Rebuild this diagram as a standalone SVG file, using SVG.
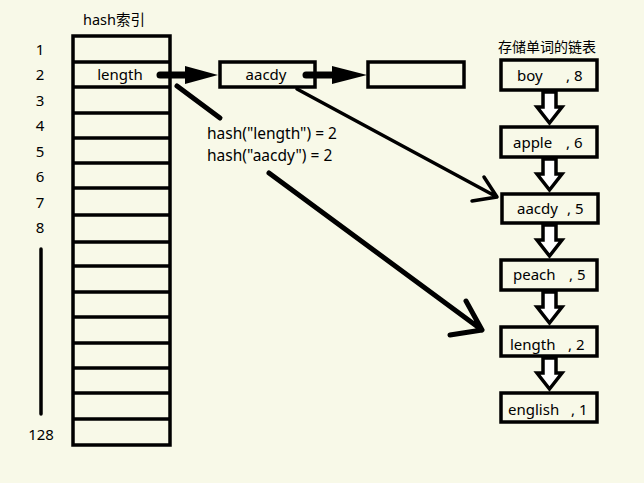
<svg xmlns="http://www.w3.org/2000/svg" width="644" height="483" viewBox="0 0 644 483">
<style>
  text { font-family: "Noto Sans", "Noto Sans CJK SC", sans-serif; font-size: 15px; fill: #000; }
  .c { text-anchor: middle; dominant-baseline: central; }
  .box { fill: none; stroke: #000; stroke-width: 3.5; }
  .cell { fill: none; stroke: #000; stroke-width: 3.5; }
  .hollow { fill: #fff; stroke: #000; stroke-width: 3.5; stroke-linejoin: miter; }
  .ln { fill: none; stroke: #000; stroke-linecap: round; stroke-linejoin: round; }
  .ht { font-size: 15.5px; }
</style>
<defs>
  <path id="harrow" d="M -6.5 0 L 6.5 0 L 6.5 15 L 12.5 15 L 0 31 L -12.5 15 L -6.5 15 Z"/>
</defs>
<rect width="644" height="483" fill="#f8f9e8"/>

<g id="hash-table">
  <text x="83" y="19" dominant-baseline="central" style="font-size:14.5px">hash索引</text>
  <rect class="cell" x="73" y="36" width="97" height="409"/>
  <path class="cell" d="M73 62H170M73 87H170M73 113H170M73 138H170M73 163H170M73 188H170M73 215H170M73 242H170M73 266H170M73 292H170M73 317H170M73 343H170M73 368H170M73 393H170M73 419H170"/>
  <text class="c" x="120" y="74">length</text>
</g>

<g id="index-labels">
  <text class="c" x="40" y="49">1</text>
  <text class="c" x="40" y="74">2</text>
  <text class="c" x="40" y="100">3</text>
  <text class="c" x="40" y="125">4</text>
  <text class="c" x="40" y="151">5</text>
  <text class="c" x="40" y="176">6</text>
  <text class="c" x="40" y="202">7</text>
  <text class="c" x="40" y="227">8</text>
  <line class="ln" x1="41" y1="249" x2="41" y2="414" stroke-width="3.5"/>
  <text class="c" x="41" y="434">128</text>
</g>

<g id="node-aacdy">
  <rect class="box" x="220" y="62" width="95" height="25"/>
  <text class="c" x="266" y="74">aacdy</text>
</g>

<g id="node-empty">
  <rect class="box" x="368" y="62" width="96" height="25"/>
</g>

<g id="hash-text">
  <text class="ht" x="207" y="133" dominant-baseline="central">hash("length") = 2</text>
  <text class="ht" x="207" y="155" dominant-baseline="central">hash("aacdy") = 2</text>
</g>

<g id="chain">
  <text x="547" y="46" text-anchor="middle" dominant-baseline="central" style="font-size:14px">存储单词的链表</text>
  <g id="chain-boy">
    <rect class="box" x="501" y="60" width="96" height="30"/>
    <text y="75" dominant-baseline="central"><tspan x="517">boy</tspan><tspan x="566">, 8</tspan></text>
  </g>
  <g id="chain-apple">
    <rect class="box" x="501" y="127" width="96" height="30"/>
    <text y="142" dominant-baseline="central"><tspan x="513">apple</tspan><tspan x="566">, 6</tspan></text>
  </g>
  <g id="chain-aacdy">
    <rect class="box" x="502" y="194" width="96" height="29"/>
    <text y="208" dominant-baseline="central"><tspan x="517">aacdy</tspan><tspan x="567">, 5</tspan></text>
  </g>
  <g id="chain-peach">
    <rect class="box" x="501" y="260" width="96" height="30"/>
    <text y="274" dominant-baseline="central"><tspan x="513">peach</tspan><tspan x="569">, 5</tspan></text>
  </g>
  <g id="chain-length">
    <rect class="box" x="501" y="327" width="96" height="29"/>
    <text y="344" dominant-baseline="central"><tspan x="510">length</tspan><tspan x="568">, 2</tspan></text>
  </g>
  <g id="chain-english">
    <rect class="box" x="501" y="393" width="96" height="29"/>
    <text y="409" dominant-baseline="central"><tspan x="508">english</tspan><tspan x="571">, 1</tspan></text>
  </g>
</g>

<g id="connectors">
  <path d="M160 71.5 H187 V78.5 H160 A3.5 3.5 0 0 1 160 71.5 Z" fill="#000"/>
  <path d="M185 66 L218 75 L185 84 Z" fill="#000"/>
  <path d="M306 71.5 H334 V78.5 H306 A3.5 3.5 0 0 1 306 71.5 Z" fill="#000"/>
  <path d="M332 66 L367 75 L332 84 Z" fill="#000"/>
  <use href="#harrow" class="hollow" x="549.5" y="92"/>
  <use href="#harrow" class="hollow" x="549.5" y="159"/>
  <use href="#harrow" class="hollow" x="549.5" y="225"/>
  <use href="#harrow" class="hollow" x="549.5" y="292"/>
  <use href="#harrow" class="hollow" x="549.5" y="358"/>
  <line class="ln" x1="177" y1="86" x2="220" y2="118" stroke-width="5"/>
  <path class="ln" d="M297 89 L497 197 M484 177 L497 197 L472 201" stroke-width="3.5"/>
  <path class="ln" d="M269 173 L482 330 M466 301 L482 330 L450 335" stroke-width="5"/>
</g>
</svg>
